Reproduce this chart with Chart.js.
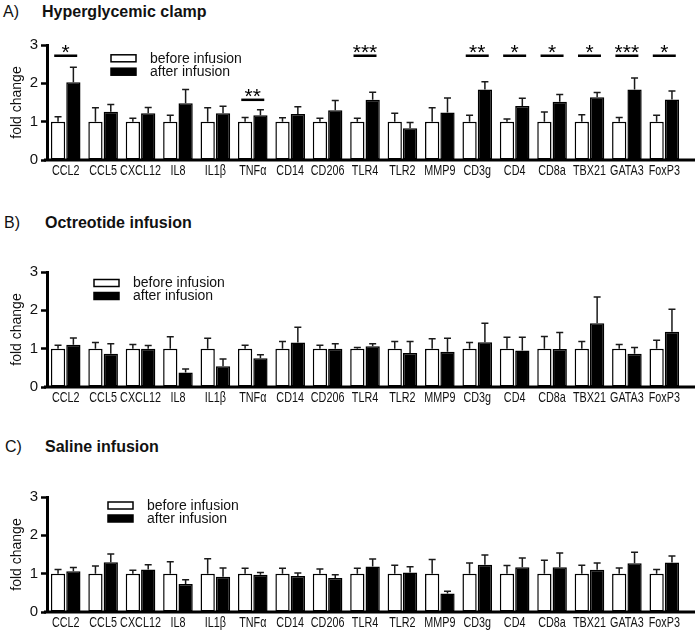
<!DOCTYPE html>
<html>
<head>
<meta charset="utf-8">
<script src="https://cdn.jsdelivr.net/npm/chart.js@4.4.1/dist/chart.umd.min.js"></script>
<style>
  body { margin: 0; background: #fff; width: 700px; height: 631px; overflow: hidden; position: relative; font-family: 'Liberation Sans', Arial, sans-serif; color: #111; }
  .panel { position: absolute; left: 0; width: 700px; height: 195px; }
  .tag { position: absolute; font-size: 16px; line-height: 16px; }
  .title { position: absolute; font-size: 16px; line-height: 16px; font-weight: bold; }
</style>
</head>
<body>
<div class="tag" style="left:3px; top:4px;">A)</div>
<div class="title" style="left:42px; top:4px;">Hyperglycemic clamp</div>
<div class="tag" style="left:4px; top:215px;">B)</div>
<div class="title" style="left:45px; top:215px;">Octreotide infusion</div>
<div class="tag" style="left:5px; top:439px;">C)</div>
<div class="title" style="left:45px; top:439px;">Saline infusion</div>

<canvas id="chartA" class="panel" width="700" height="195" style="top:0px"></canvas>
<canvas id="chartB" class="panel" width="700" height="195" style="top:227px"></canvas>
<canvas id="chartC" class="panel" width="700" height="195" style="top:452px"></canvas>

<script>
const genes = ['CCL2', 'CCL5', 'CXCL12', 'IL8', 'IL1β', 'TNFα', 'CD14', 'CD206', 'TLR4', 'TLR2', 'MMP9', 'CD3g', 'CD4', 'CD8a', 'TBX21', 'GATA3', 'FoxP3'];
const yTicks = [0, 1, 2, 3];

// A) hyperglycemic clamp
const beforeA    = [1, 1, 1, 1, 1, 1, 1, 1, 1, 1, 1, 1, 1, 1, 1, 1, 1];
const beforeErrA = [0.13, 0.36, 0.09, 0.17, 0.36, 0.11, 0.10, 0.09, 0.09, 0.22, 0.36, 0.17, 0.07, 0.25, 0.18, 0.11, 0.17];
const afterA     = [2.03, 1.26, 1.22, 1.48, 1.22, 1.17, 1.20, 1.30, 1.57, 0.83, 1.24, 1.84, 1.41, 1.52, 1.64, 1.84, 1.58];
const afterErrA  = [0.39, 0.19, 0.15, 0.36, 0.18, 0.14, 0.19, 0.25, 0.20, 0.15, 0.38, 0.20, 0.20, 0.19, 0.12, 0.30, 0.22];
const sigStarsA  = ['*', '', '', '', '', '**', '', '', '***', '', '', '**', '*', '*', '*', '***', '*'];
const sigLevelA  = [2.72, null, null, null, null, 1.57, null, null, 2.72, null, null, 2.72, 2.72, 2.72, 2.72, 2.72, 2.72];

// B) octreotide infusion
const beforeB    = [1, 1, 1, 1, 1, 1, 1, 1, 1, 1, 1, 1, 1, 1, 1, 1, 1];
const beforeErrB = [0.09, 0.16, 0.11, 0.31, 0.27, 0.09, 0.19, 0.09, 0.03, 0.19, 0.26, 0.16, 0.30, 0.32, 0.19, 0.11, 0.22];
const afterB     = [1.10, 0.87, 1.00, 0.38, 0.54, 0.75, 1.16, 1.00, 1.06, 0.89, 0.92, 1.17, 0.95, 0.99, 1.66, 0.87, 1.44];
const afterErrB  = [0.18, 0.26, 0.08, 0.09, 0.19, 0.09, 0.40, 0.13, 0.07, 0.30, 0.35, 0.49, 0.35, 0.43, 0.69, 0.16, 0.59];

// C) saline infusion
const beforeC    = [1, 1, 1, 1, 1, 1, 1, 1, 1, 1, 1, 1, 1, 1, 1, 1, 1];
const beforeErrC = [0.11, 0.20, 0.09, 0.31, 0.39, 0.14, 0.14, 0.12, 0.14, 0.22, 0.37, 0.28, 0.21, 0.35, 0.22, 0.15, 0.11];
const afterC     = [1.06, 1.30, 1.11, 0.73, 0.92, 0.97, 0.94, 0.89, 1.19, 1.03, 0.48, 1.23, 1.17, 1.17, 1.10, 1.27, 1.29];
const afterErrC  = [0.10, 0.21, 0.12, 0.11, 0.23, 0.06, 0.08, 0.08, 0.19, 0.15, 0.06, 0.26, 0.24, 0.37, 0.18, 0.29, 0.17];

const seriesNames = ['before infusion', 'after infusion'];

Chart.defaults.font.family = "'Liberation Sans', Arial, sans-serif";
Chart.defaults.color = '#111';

// one-sided SEM whiskers on top of every bar
const errorBars = {
  id: 'errorBars',
  afterDatasetsDraw(chart) {
    const { ctx, scales: { y } } = chart;
    ctx.save();
    ctx.strokeStyle = '#1a1a1a';
    ctx.lineWidth = 1.5;
    chart.data.datasets.forEach((ds, i) => {
      chart.getDatasetMeta(i).data.forEach((bar, j) => {
        const top = y.getPixelForValue(ds.data[j] + ds.err[j]);
        ctx.beginPath();
        ctx.moveTo(bar.x, bar.y);
        ctx.lineTo(bar.x, top);
        ctx.moveTo(bar.x - 3.5, top);
        ctx.lineTo(bar.x + 3.5, top);
        ctx.stroke();
      });
    });
    ctx.restore();
  }
};

// thick baseline that runs a bit past the last group, like the prism plot
const baseline = {
  id: 'baseline',
  afterDatasetsDraw(chart) {
    const { ctx, chartArea, scales: { y } } = chart;
    const y0 = y.getPixelForValue(0);
    ctx.save();
    ctx.strokeStyle = '#000';
    ctx.lineWidth = 3;
    ctx.beginPath();
    ctx.moveTo(chartArea.left - 3, y0);
    ctx.lineTo(chartArea.right + 12, y0);
    ctx.stroke();
    ctx.restore();
  }
};

// category labels, squeezed horizontally the way the source figure is
const squeezedLabels = {
  id: 'squeezedLabels',
  afterDraw(chart) {
    const { ctx, chartArea, scales: { x } } = chart;
    ctx.save();
    ctx.font = "15px 'Liberation Sans', Arial, sans-serif";
    ctx.fillStyle = '#111';
    ctx.textAlign = 'center';
    ctx.textBaseline = 'middle';
    chart.data.labels.forEach((lab, i) => {
      ctx.save();
      ctx.translate(x.getPixelForValue(i), chartArea.bottom + 11);
      ctx.scale(0.72, 1);
      ctx.fillText(lab, 0, 0);
      ctx.restore();
    });
    ctx.restore();
  }
};

const boxLegend = {
  id: 'boxLegend',
  afterDraw(chart, args, opts) {
    const { ctx, chartArea } = chart;
    const x = chartArea.left + opts.x;
    ctx.save();
    ctx.font = "14px 'Liberation Sans', Arial, sans-serif";
    ctx.textBaseline = 'middle';
    chart.data.datasets.forEach((ds, i) => {
      const cy = chartArea.top + opts.rows[i];
      ctx.fillStyle = ds.backgroundColor;
      ctx.fillRect(x, cy - 3.5, 25, 7);
      ctx.strokeStyle = '#000';
      ctx.lineWidth = 1.5;
      ctx.strokeRect(x, cy - 3.5, 25, 7);
      ctx.fillStyle = '#111';
      ctx.fillText(ds.label, x + 39, cy + 0.5);
    });
    ctx.restore();
  }
};

const significance = {
  id: 'significance',
  afterDraw(chart, args, opts) {
    if (!opts.stars) return;
    const { ctx, scales: { x, y } } = chart;
    ctx.save();
    ctx.strokeStyle = '#000';
    ctx.fillStyle = '#000';
    ctx.lineWidth = 2.5;
    ctx.font = "21px 'Liberation Sans', Arial, sans-serif";
    ctx.textAlign = 'center';
    ctx.textBaseline = 'alphabetic';
    opts.stars.forEach((s, i) => {
      if (!s) return;
      const cx = x.getPixelForValue(i);
      const ly = y.getPixelForValue(opts.levels[i]);
      ctx.beginPath();
      ctx.moveTo(cx - 11.5, ly);
      ctx.lineTo(cx + 11.5, ly);
      ctx.stroke();
      ctx.fillText(s, cx, ly + 3.5);
    });
    ctx.restore();
  }
};

function makePanel(id, before, beforeErr, after, afterErr, legendOpts, sigOpts) {
  new Chart(document.getElementById(id), {
    type: 'bar',
    data: {
      labels: genes,
      datasets: [
        { label: seriesNames[0], data: before, err: beforeErr, backgroundColor: '#ffffff', borderColor: '#000', borderWidth: 1.5, borderSkipped: false },
        { label: seriesNames[1], data: after, err: afterErr, backgroundColor: '#000000', borderColor: '#000', borderWidth: 1.5, borderSkipped: false }
      ]
    },
    options: {
      responsive: false,
      animation: false,
      categoryPercentage: 0.82,
      barPercentage: 0.93,
      layout: { padding: { left: 0, right: 17, top: 45, bottom: 11 } },
      plugins: {
        legend: { display: false },
        tooltip: { enabled: false },
        boxLegend: legendOpts,
        significance: sigOpts || {}
      },
      scales: {
        x: {
          grid: { display: false, drawTicks: false },
          border: { display: false },
          ticks: { display: false },
          afterFit: s => { s.height = 24; }
        },
        y: {
          min: 0, max: 3,
          afterBuildTicks: s => { s.ticks = yTicks.map(v => ({ value: v })); },
          grid: { drawOnChartArea: false, drawTicks: true, tickLength: 6, tickWidth: 2.5, tickColor: '#000' },
          border: { display: true, color: '#000', width: 3 },
          ticks: { padding: 3, font: { size: 15 } },
          title: { display: true, text: 'fold change', font: { size: 14 }, padding: { top: 9, bottom: 0 } },
          afterFit: s => { s.width = 47; }
        }
      }
    },
    plugins: [errorBars, baseline, squeezedLabels, boxLegend, significance]
  });
}

makePanel('chartA', beforeA, beforeErrA, afterA, afterErrA,
  { x: 64, rows: [13.3, 26.7] },
  { stars: sigStarsA, levels: sigLevelA });
makePanel('chartB', beforeB, beforeErrB, afterB, afterErrB,
  { x: 47, rows: [11, 24] });
makePanel('chartC', beforeC, beforeErrC, afterC, afterErrC,
  { x: 61, rows: [8.5, 21.5] });
</script>
</body>
</html>
